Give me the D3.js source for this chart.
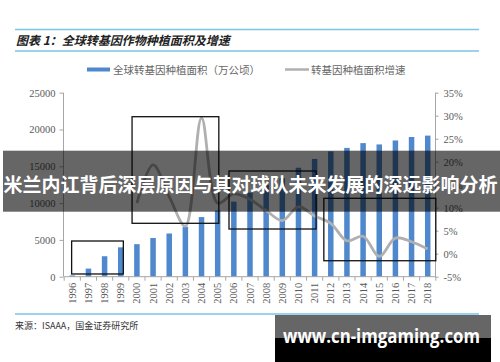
<!DOCTYPE html>
<html><head><meta charset="utf-8">
<script src="https://cdn.jsdelivr.net/npm/d3@7"></script>
<style>body{margin:0;background:#fff}svg{display:block}</style>
</head><body>
<script>
const years = ["1996","1997","1998","1999","2000","2001","2002","2003","2004","2005","2006","2007","2008","2009","2010","2011","2012","2013","2014","2015","2016","2017","2018"];
const area = [170,1100,2780,3990,4420,5260,5870,6770,8100,9000,10200,11430,12500,13400,14800,16000,17030,17500,18150,17970,18510,18980,19170];
const growth = [null,null,null,null,11,19.3,12.4,6,29.5,11,13,11.8,9.4,7.2,10.2,8.2,6.6,2.8,3.8,-0.6,3.4,2.6,1];
const leftTicks = [0,5000,10000,15000,20000,25000];
const rightTicks = [-5,0,5,10,15,20,25,30,35];
// annotation boxes: [start index, end index, top value, bottom value] in bar-axis units
const boxes = [[-0.04,3.16,4850,370],[3.7,9.07,21740,7255],[9.7,15.09,14360,6480],[15.57,22.5,10650,2170]];
const title = "图表 1：全球转基因作物种植面积及增速";
const legend1 = "全球转基因种植面积（万公顷）";
const legend2 = "转基因种植面积增速";
const source = "来源：ISAAA，国金证券研究所";
const banner = "米兰内讧背后深层原因与其对球队未来发展的深远影响分析";
const watermark = "www.cn-imgaming.com";

const W=500,H=362;
const svg=d3.select("body").append("svg").attr("width",W).attr("height",H);
svg.append("rect").attr("width",W).attr("height",H).attr("fill","#fff");
const lineCol="#7cc3e4";
const cjk="'Noto Sans CJK SC','Noto Sans',sans-serif";
const serif="'Liberation Serif','DejaVu Serif',serif";

// header
svg.append("line").attr("x1",15).attr("x2",479).attr("y1",29.5).attr("y2",29.5).attr("stroke",lineCol).attr("stroke-width",1.5);
svg.append("line").attr("x1",15).attr("x2",479).attr("y1",51).attr("y2",51).attr("stroke",lineCol).attr("stroke-width",1.5);
svg.append("text").attr("x",16).attr("y",44.5).attr("font-family",cjk).attr("font-size",12).attr("font-weight","bold").attr("font-style","italic").attr("fill","#222").text(title);

// legend
svg.append("rect").attr("x",87).attr("y",67.5).attr("width",23).attr("height",4).attr("fill","#4f88cc");
svg.append("text").attr("x",113).attr("y",73.5).attr("font-family",cjk).attr("font-size",10.5).attr("fill","#666").text(legend1);
svg.append("line").attr("x1",285).attr("x2",309).attr("y1",69.5).attr("y2",69.5).attr("stroke","#b0b0b0").attr("stroke-width",2.5);
svg.append("text").attr("x",311).attr("y",73.5).attr("font-family",cjk).attr("font-size",10.5).attr("fill","#666").text(legend2);

// scales
const x=d3.scaleBand().domain(years).range([64.2,435.8]).padding(0);
const yL=d3.scaleLinear().domain([0,25000]).range([276.7,92.7]);
const yR=d3.scaleLinear().domain([-5,35]).range([276.7,92.7]);
const xi=i=>x.range()[0]+(i+0.5)*x.step();

// bars
const bw=x.bandwidth()*0.34;
svg.append("g").selectAll("rect").data(area).join("rect")
 .attr("x",(d,i)=>x(years[i])+x.bandwidth()/2-bw/2).attr("width",bw)
 .attr("y",d=>yL(d)).attr("height",d=>yL(0)-yL(d)).attr("fill","#4f88cc");

// axes
const axL=svg.append("g").attr("transform",`translate(${x.range()[0]-0.7},0)`)
 .call(d3.axisLeft(yL).tickValues(leftTicks).tickSize(4).tickPadding(4).tickFormat(d=>d));
const axR=svg.append("g").attr("transform",`translate(${x.range()[1]-0.3},0)`)
 .call(d3.axisRight(yR).tickValues(rightTicks).tickSize(3).tickPadding(5).tickFormat(d=>d+"%"));
[axL,axR].forEach(a=>{a.selectAll("path,line").attr("stroke","#a6a6a6");a.selectAll("text").attr("font-family",serif).attr("font-size",10.5).attr("fill","#595959");a.select(".domain").attr("d",a===axL?`M0,${yL(0)}V${yL(25000)}`:`M0,${yR(-5)}V${yR(35)}`);});

// x axis
const gx=svg.append("g");
gx.append("line").attr("x1",x.range()[0]).attr("x2",x.range()[1]).attr("y1",yL(0)).attr("y2",yL(0)).attr("stroke","#a6a6a6");
gx.selectAll("line.t").data(d3.range(years.length+1)).join("line").attr("class","t")
 .attr("x1",i=>x.range()[0]+i*x.step()).attr("x2",i=>x.range()[0]+i*x.step())
 .attr("y1",yL(0)).attr("y2",yL(0)+4).attr("stroke","#a6a6a6");
gx.selectAll("text").data(years).join("text")
 .attr("transform",d=>`translate(${x(d)+x.bandwidth()/2+3.5},${yL(0)+6}) rotate(-90)`)
 .attr("text-anchor","end").attr("font-family",serif).attr("font-size",10.5).attr("fill","#595959").text(d=>d);

// growth line
const pts=growth.map((v,i)=>[i,v]).filter(d=>d[1]!==null);
svg.append("path").datum(pts).attr("fill","none").attr("stroke","#b0b0b0").attr("stroke-width",2.8)
 .attr("d",d3.line().x(d=>xi(d[0])).y(d=>yR(d[1])).curve(d3.curveCatmullRom.alpha(0.5)));

// boxes
svg.append("g").selectAll("rect").data(boxes).join("rect")
 .attr("x",d=>xi(d[0])).attr("width",d=>xi(d[1])-xi(d[0]))
 .attr("y",d=>yL(d[2])).attr("height",d=>yL(d[3])-yL(d[2]))
 .attr("fill","none").attr("stroke","#111").attr("stroke-width",1.3);

// footer
svg.append("line").attr("x1",15).attr("x2",479).attr("y1",314).attr("y2",314).attr("stroke",lineCol).attr("stroke-width",1.5);
svg.append("text").attr("x",15).attr("y",329).attr("font-family",cjk).attr("font-size",9).attr("fill","#333").text(source);

// banner overlay
svg.append("rect").attr("x",3).attr("y",150.7).attr("width",497).attr("height",61).attr("fill","#000").attr("opacity",0.6);
svg.append("text").attr("x",250.5).attr("y",183).attr("dominant-baseline","central").attr("text-anchor","middle")
 .attr("font-family",cjk).attr("font-weight","bold").attr("font-size",19).attr("fill","#fff").text(banner);

// watermark
svg.append("rect").attr("x",275).attr("y",315).attr("width",216).attr("height",23).attr("fill","#666");
svg.append("rect").attr("x",275).attr("y",338).attr("width",216).attr("height",24).attr("fill","#000");
svg.append("text").attr("x",283).attr("y",343).attr("font-family","'Open Sans',sans-serif").attr("font-weight","bold").attr("font-size",19)
 .attr("textLength",197).attr("lengthAdjust","spacingAndGlyphs").attr("fill","#fff").text(watermark);
</script>
</body></html>
